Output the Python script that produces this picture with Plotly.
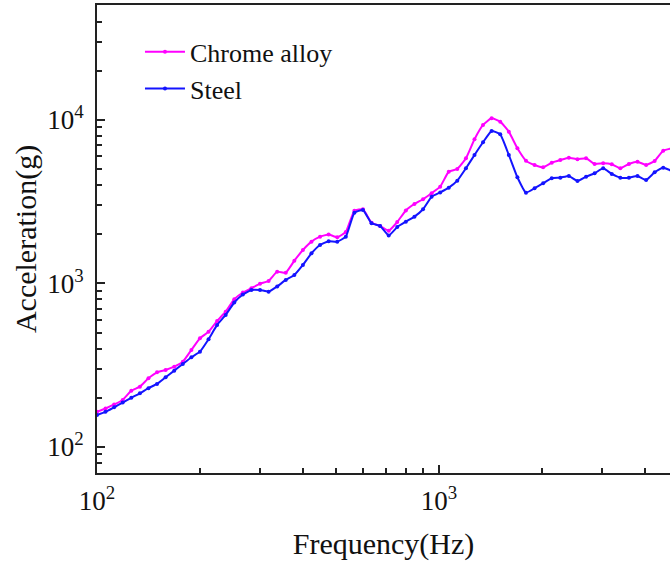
import plotly.graph_objects as go

# 1/12-octave centre frequencies (Hz)
freq = [100, 105.9, 112.2, 118.9, 126.0, 133.5, 141.4, 149.8, 158.7, 168.2,
        178.2, 188.8, 200, 211.9, 224.5, 237.8, 252.0, 267.0, 282.8, 299.7,
        317.5, 336.4, 356.4, 377.6, 400, 423.8, 449.0, 475.7, 504.0, 534.0,
        565.7, 599.3, 635.0, 672.7, 712.7, 755.1, 800, 847.6, 898.0, 951.4,
        1008, 1068, 1131, 1199, 1270, 1345, 1425, 1510, 1600, 1695,
        1796, 1903, 2016, 2136, 2263, 2397, 2540, 2691, 2851, 3020,
        3200, 3390, 3592, 3805, 4032, 4271, 4525, 4794]

chrome = [164, 172, 182, 194, 221, 234, 263, 286, 296, 310,
          332, 392, 462, 507, 590, 672, 801, 881, 935, 997,
          1036, 1181, 1165, 1378, 1603, 1802, 1933, 1994, 1917, 2065,
          2788, 2843, 2354, 2247, 2103, 2377, 2796, 3064, 3273, 3562,
          3908, 4829, 5016, 5831, 7621, 9320, 10242, 9763, 8481, 6713,
          5638, 5305, 5136, 5480, 5694, 5880, 5750, 5831, 5380, 5434,
          5358, 5066, 5380, 5559, 5305, 5613, 6490, 6713]

steel = [157, 164, 175, 187, 200, 213, 229, 243, 267, 293,
         322, 354, 383, 456, 558, 642, 765, 856, 913, 913,
         891, 959, 1051, 1127, 1298, 1530, 1720, 1812, 1802, 1933,
         2710, 2815, 2334, 2247, 1966, 2216, 2388, 2563, 2843, 3395,
         3603, 3853, 4254, 5066, 6108, 7304, 8565, 8176, 6108, 4462,
         3593, 3821, 4101, 4400, 4437, 4545, 4236, 4500, 4721, 5066,
         4674, 4437, 4437, 4545, 4295, 4786, 5108, 4875]

series_names = ["Chrome alloy", "Steel"]
series_colors = ["#FF00FF", "#1414FF"]

x_major = [100, 1000]
x_major_text = ["10<sup>2</sup>", "10<sup>3</sup>"]
x_minor = [200, 300, 400, 500, 600, 700, 800, 900, 2000, 3000, 4000]
y_major = [100, 1000, 10000]
y_major_text = ["10<sup>2</sup>", "10<sup>3</sup>", "10<sup>4</sup>"]
y_minor = [70, 80, 90, 200, 300, 400, 500, 600, 700, 800, 900,
           2000, 3000, 4000, 5000, 6000, 7000, 8000, 9000,
           20000, 30000, 40000, 50000]

FONT = "Liberation Serif, Times New Roman, serif"

fig = go.Figure()
for name, vals, col in zip(series_names, [chrome, steel], series_colors):
    fig.add_trace(go.Scatter(
        x=freq, y=vals, name=name, mode="lines+markers",
        line=dict(color=col, width=2, shape="spline", smoothing=0.4),
        marker=dict(color=col, size=4, symbol="circle"),
    ))

axis_common = dict(
    type="log", showgrid=False, zeroline=False,
    showline=True, linecolor="#222222", linewidth=2,
    ticks="inside", ticklen=8, tickwidth=2, tickcolor="#222222",
    tickmode="array",
    tickfont=dict(family=FONT, size=27, color="#111111"),
)

fig.update_layout(
    width=670, height=561,
    margin=dict(l=97, r=0, t=5, b=88),
    paper_bgcolor="white", plot_bgcolor="white",
    font=dict(family=FONT, color="#111111"),
    showlegend=True,
    legend=dict(
        x=0.075, y=0.95, xanchor="left", yanchor="top",
        bgcolor="rgba(0,0,0,0)", borderwidth=0,
        font=dict(family=FONT, size=26, color="#111111"),
        itemwidth=40, tracegroupgap=0,
    ),
    xaxis=dict(
        **axis_common,
        range=[2, 3.6754],
        tickvals=x_major, ticktext=x_major_text,
        mirror=True,
        ticklabelstandoff=3,
        minor=dict(ticks="inside", ticklen=5, tickwidth=1.5,
                   tickcolor="#222222", tickmode="array", tickvals=x_minor,
                   showgrid=False),
        title=dict(text="Frequency(Hz)", standoff=18,
                   font=dict(family=FONT, size=30, color="#111111")),
    ),
    yaxis=dict(
        **axis_common,
        range=[1.841, 4.703],
        tickvals=y_major, ticktext=y_major_text,
        mirror=False,
        ticklabelstandoff=6,
        minor=dict(ticks="inside", ticklen=5, tickwidth=1.5,
                   tickcolor="#222222", tickmode="array", tickvals=y_minor,
                   showgrid=False),
        title=dict(text="Acceleration(g)", standoff=2,
                   font=dict(family=FONT, size=30, color="#111111")),
    ),
)

fig.write_html("out.html")
